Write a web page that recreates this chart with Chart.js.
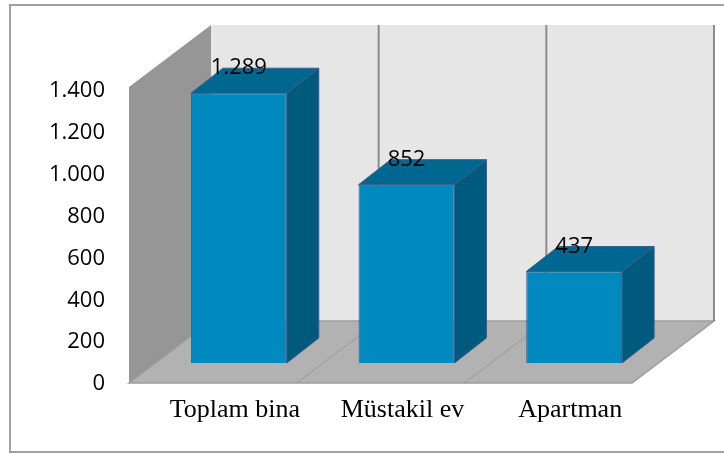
<!DOCTYPE html>
<html>
<head>
<meta charset="utf-8">
<script src="https://cdn.jsdelivr.net/npm/chart.js@4/dist/chart.umd.min.js"></script>
<style>
  html, body { margin: 0; padding: 0; background: #fff; }
  #wrap { width: 724px; height: 454px; }
</style>
</head>
<body>
<div id="wrap"><canvas id="chart" width="724" height="454"></canvas></div>
<script>
'use strict';

// chart data
const categories = ['Toplam bina', 'Müstakil ev', 'Apartman'];
const buildings = [1289, 852, 437];
const yTicks = [0, 200, 400, 600, 800, 1000, 1200, 1400];

// 3d look
const depthX = 82, depthY = 62;       // floor / wall depth
const wallExtra = 4;                  // walls reach a bit above the top tick
const barShiftX = 26, barShiftY = 21; // bars sit inside the floor
const barDepthX = 32, barDepthY = 25;

function formatTr(v) {
    return String(v).replace(/\B(?=(\d{3})+(?!\d))/g, '.');
}

const walls3d = {
    id: 'walls3d',
    beforeDatasetsDraw: function (chart) {
        const ctx = chart.ctx;
        const a = chart.chartArea;
        const n = categories.length;
        const w = (a.right - a.left) / n;
        const top = a.top - wallExtra;
        const bottom = a.bottom - 1;

        ctx.save();
        // outer frame
        ctx.strokeStyle = '#a0a0a0';
        ctx.lineWidth = 2;
        ctx.strokeRect(10, 5, 716, 447);

        // back wall
        ctx.fillStyle = '#e6e6e6';
        ctx.fillRect(a.left + depthX, top - depthY, a.right - a.left, bottom - top);

        // left wall
        ctx.fillStyle = '#969696';
        ctx.beginPath();
        ctx.moveTo(a.left, top);
        ctx.lineTo(a.left + depthX, top - depthY);
        ctx.lineTo(a.left + depthX, bottom - depthY);
        ctx.lineTo(a.left, bottom);
        ctx.closePath();
        ctx.fill();

        // floor
        ctx.fillStyle = '#b2b2b2';
        ctx.strokeStyle = '#9c9c9c';
        ctx.lineWidth = 1.5;
        ctx.beginPath();
        ctx.moveTo(a.left, bottom);
        ctx.lineTo(a.left + depthX, bottom - depthY);
        ctx.lineTo(a.right + depthX, bottom - depthY);
        ctx.lineTo(a.right, bottom);
        ctx.closePath();
        ctx.fill();
        ctx.stroke();

        // category dividers on back wall and floor
        ctx.strokeStyle = '#8c8c8c';
        ctx.lineWidth = 2;
        for (let k = 1; k <= n; k++) {
            const x = a.left + k * w;
            ctx.beginPath();
            ctx.moveTo(x + depthX, top - depthY);
            ctx.lineTo(x + depthX, bottom - depthY);
            ctx.stroke();
        }
        ctx.lineWidth = 1;
        ctx.strokeStyle = '#999999';
        for (let k = 1; k < n; k++) {
            const x = a.left + k * w;
            ctx.beginPath();
            ctx.moveTo(x, bottom);
            ctx.lineTo(x + depthX, bottom - depthY);
            ctx.stroke();
        }
        ctx.restore();

        // bars are drawn further back on the floor
        ctx.save();
        ctx.translate(barShiftX, -barShiftY);
    },
    afterDatasetsDraw: function (chart) {
        const ctx = chart.ctx;
        const meta = chart.getDatasetMeta(0);

        meta.data.forEach(function (bar, i) {
            const half = bar.width / 2;
            const x1 = bar.x - half, x2 = bar.x + half;
            const top = bar.y, bottom = bar.base;

            ctx.strokeStyle = '#3e5c8a';
            ctx.lineWidth = 1;

            // top face
            ctx.fillStyle = '#006890';
            ctx.beginPath();
            ctx.moveTo(x1, top);
            ctx.lineTo(x1 + barDepthX, top - barDepthY);
            ctx.lineTo(x2 + barDepthX, top - barDepthY);
            ctx.lineTo(x2, top);
            ctx.closePath();
            ctx.fill();
            ctx.stroke();

            // side face
            ctx.fillStyle = '#005a7e';
            ctx.beginPath();
            ctx.moveTo(x2, top);
            ctx.lineTo(x2 + barDepthX, top - barDepthY);
            ctx.lineTo(x2 + barDepthX, bottom - barDepthY);
            ctx.lineTo(x2, bottom);
            ctx.closePath();
            ctx.fill();
            ctx.stroke();

            // value label
            ctx.fillStyle = '#000';
            ctx.font = '22px "Open Sans"';
            ctx.textAlign = 'center';
            ctx.textBaseline = 'middle';
            ctx.fillText(formatTr(buildings[i]), bar.x, top - barDepthY);
        });

        ctx.restore();
    }
};

const ctx = document.getElementById('chart').getContext('2d');
const chart = new Chart(ctx, {
    type: 'bar',
    data: {
        labels: categories,
        datasets: [{
            label: 'Bina',
            data: buildings,
            backgroundColor: '#0089bf',
            borderColor: '#3e5c8a',
            borderWidth: 1,
            categoryPercentage: 1,
            barPercentage: 0.572
        }]
    },
    options: {
        responsive: false,
        animation: false,
        layout: {
            padding: { left: 10, top: 91, right: 92, bottom: 30 }
        },
        plugins: {
            legend: { display: false },
            tooltip: { enabled: false }
        },
        scales: {
            x: {
                grid: { display: false, drawTicks: false },
                border: { display: false },
                ticks: {
                    color: '#000',
                    font: { family: '"Liberation Serif"', size: 26 },
                    padding: 11,
                    labelOffset: 22,
                    maxRotation: 0
                },
                afterFit: function (scale) { scale.height = 40; }
            },
            y: {
                min: yTicks[0],
                max: yTicks[yTicks.length - 1],
                grid: { display: false, drawTicks: false },
                border: { display: false },
                afterBuildTicks: function (scale) {
                    scale.ticks = yTicks.map(function (v) { return { value: v }; });
                },
                ticks: {
                    color: '#000',
                    font: { family: '"Open Sans"', size: 22 },
                    padding: 24,
                    callback: function (value) { return formatTr(value); }
                },
                afterFit: function (scale) { scale.width = 119; }
            }
        }
    },
    plugins: [walls3d]
});
</script>
</body>
</html>
